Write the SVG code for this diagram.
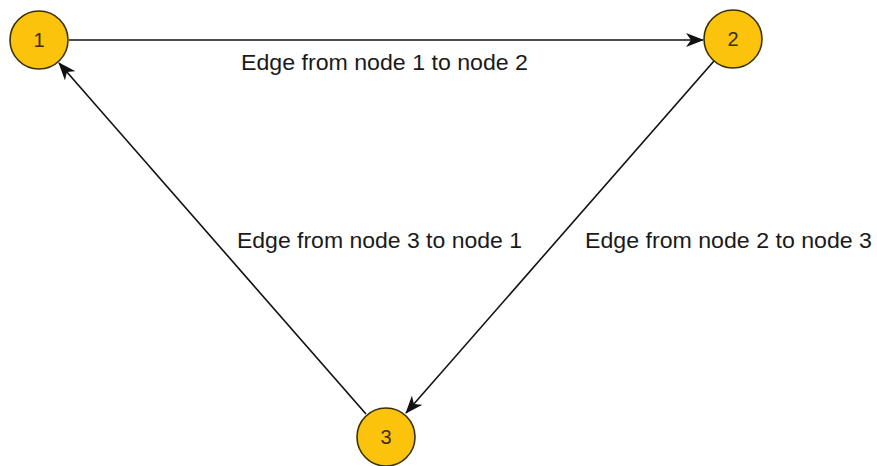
<svg xmlns="http://www.w3.org/2000/svg" width="877" height="466" viewBox="0 0 877 466">
<style>
.node circle{fill:#FBC30C;stroke:#3b3000;stroke-width:1.6}
.node text{font-family:"Liberation Sans",Arial,sans-serif;font-size:20px;fill:#3b2e00;text-anchor:middle}
.edge{stroke:#111;stroke-width:1.6;fill:none;marker-end:url(#arr)}
.lbl{font-family:"Liberation Sans",Arial,sans-serif;font-size:22px;fill:#1a1a1a}
</style>
<defs>
<marker id="arr" viewBox="0 0 18 14" refX="17" refY="7" markerWidth="18" markerHeight="14" markerUnits="userSpaceOnUse" orient="auto">
<path d="M0,0 L18,7 L0,14 L5,7 Z" fill="#111"/>
</marker>
</defs>
<rect width="877" height="466" fill="#fff"/>
<g id="connectors">
<line class="edge" x1="69" y1="40" x2="703" y2="40"/>
<line class="edge" x1="714" y1="61" x2="406" y2="413"/>
<line class="edge" x1="366" y1="414" x2="59" y2="63"/>
<text class="lbl" x="241" y="70" textLength="287" lengthAdjust="spacingAndGlyphs">Edge from node 1 to node 2</text>
<text class="lbl" x="237" y="248" textLength="285" lengthAdjust="spacingAndGlyphs">Edge from node 3 to node 1</text>
<text class="lbl" x="585" y="248" textLength="287" lengthAdjust="spacingAndGlyphs">Edge from node 2 to node 3</text>
</g>
<g id="node1" class="node"><circle cx="39" cy="40" r="29"/><text x="39" y="47">1</text></g>
<g id="node2" class="node"><circle cx="733" cy="39" r="29"/><text x="733" y="46">2</text></g>
<g id="node3" class="node"><circle cx="386" cy="437" r="29"/><text x="386" y="444">3</text></g>
</svg>
